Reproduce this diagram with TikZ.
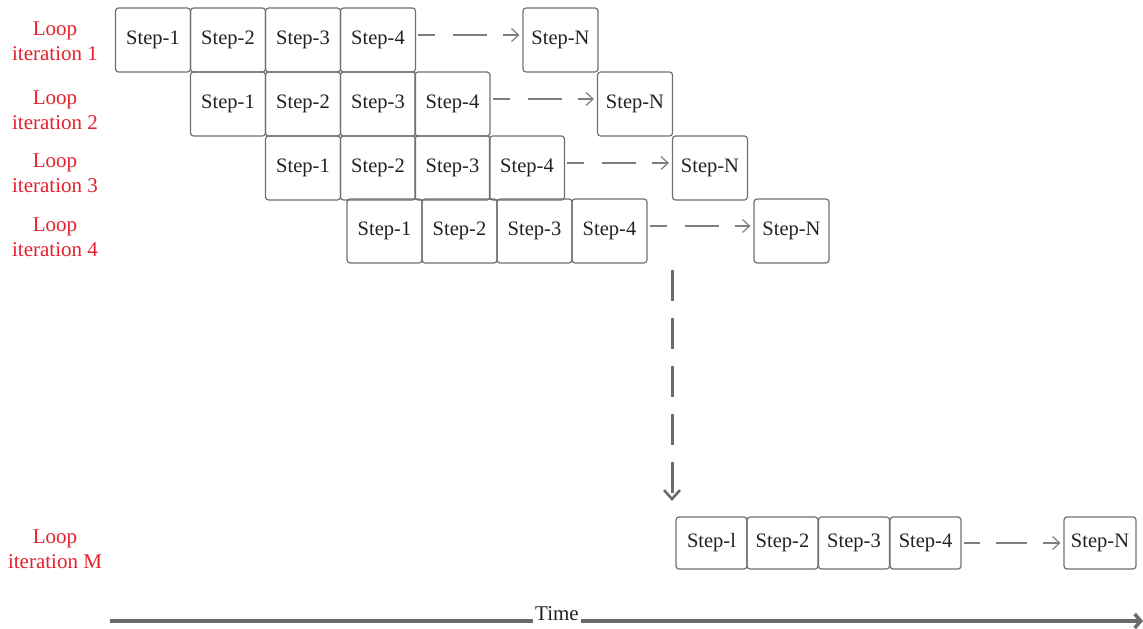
\documentclass[tikz,border=0pt]{standalone}
\usepackage{fontspec}
\setmainfont{Liberation Serif}
\usetikzlibrary{arrows.meta,calc}
\definecolor{loopred}{HTML}{E3202B}
\definecolor{boxgray}{HTML}{707070}
\definecolor{arrgray}{HTML}{6B6B6B}
\definecolor{txt}{HTML}{222222}
\tikzset{
  stepbox/.style={draw=boxgray, line width=1.2pt, rounded corners=3pt,
    minimum width=75pt, minimum height=64pt, inner sep=0pt,
    text=txt, font=\fontsize{20.5}{23}\selectfont},
  smallbox/.style={stepbox, minimum width=71pt, minimum height=52pt},
  looplabel/.style={text=loopred, align=center, inner sep=0pt,
    font=\fontsize{21}{25}\selectfont},
  skip/.style={draw=boxgray!90, line width=1.2pt,
    dash pattern=on 17pt off 18pt on 34pt off 16pt,
    shorten <=2pt, shorten >=3pt,
    -{Straight Barb[length=7pt,width=13pt,line width=1.2pt]}},
  jump/.style={draw=arrgray, line width=3pt,
    dash pattern=on 31pt off 17pt,
    -{Straight Barb[length=9pt,width=16pt,line width=2.6pt]}},
  timeline/.style={draw=arrgray, line width=4pt}
}
\begin{document}
\begin{tikzpicture}[x=1pt,y=-1pt]
\useasboundingbox (0,0) rectangle (1143,629);

% iteration 1
\node[looplabel] (l1) at (55,41) {Loop\\iteration 1};
\node[stepbox] (a1) at (153,40) {Step-1};
\node[stepbox] (a2) at (228,40) {Step-2};
\node[stepbox] (a3) at (303,40) {Step-3};
\node[stepbox] (a4) at (378,40) {Step-4};
\node[stepbox] (aN) at (560.5,40) {Step-N};
\draw[skip] ([yshift=5pt]a4.east) -- ([yshift=5pt]aN.west);

% iteration 2
\node[looplabel] (l2) at (55,110) {Loop\\iteration 2};
\node[stepbox] (b1) at (228,104) {Step-1};
\node[stepbox] (b2) at (303,104) {Step-2};
\node[stepbox] (b3) at (378,104) {Step-3};
\node[stepbox] (b4) at (452.5,104) {Step-4};
\node[stepbox] (bN) at (635,104) {Step-N};
\draw[skip] ([yshift=5pt]b4.east) -- ([yshift=5pt]bN.west);

% iteration 3
\node[looplabel] (l3) at (55,173.5) {Loop\\iteration 3};
\node[stepbox] (c1) at (303,168) {Step-1};
\node[stepbox] (c2) at (378,168) {Step-2};
\node[stepbox] (c3) at (452.5,168) {Step-3};
\node[stepbox] (c4) at (527,168) {Step-4};
\node[stepbox] (cN) at (710,168) {Step-N};
\draw[skip] ([yshift=5pt]c4.east) -- ([yshift=5pt]cN.west);

% iteration 4
\node[looplabel] (l4) at (55,237.5) {Loop\\iteration 4};
\node[stepbox] (d1) at (384.5,231) {Step-1};
\node[stepbox] (d2) at (459.5,231) {Step-2};
\node[stepbox] (d3) at (534.5,231) {Step-3};
\node[stepbox] (d4) at (609.5,231) {Step-4};
\node[stepbox] (dN) at (791.5,231) {Step-N};
\draw[skip] ([yshift=5pt]d4.east) -- ([yshift=5pt]dN.west);

% jump to the last iteration
\coordinate (jtop) at (672,270);
\coordinate (jbot) at (672,501);
\draw[jump] (jtop) -- (jbot);

% iteration M
\node[looplabel] (lM) at (55,549.5) {Loop\\iteration M};
\node[smallbox] (m1) at (711.5,543) {Step-l};
\node[smallbox] (m2) at (782.5,543) {Step-2};
\node[smallbox] (m3) at (854,543) {Step-3};
\node[smallbox] (m4) at (925.5,543) {Step-4};
\node[smallbox, minimum width=72pt] (mN) at (1100,543) {Step-N};
\draw[skip, dash pattern=on 16pt off 16pt on 31pt off 16pt] (m4.east) -- (mN.west);

% time axis
\coordinate (ts) at (110,621);
\coordinate (te) at (1143,621);
\node[text=txt, font=\fontsize{21}{25}\selectfont, inner sep=2pt] (time) at (557,614) {Time};
\draw[timeline] (ts) -- (ts -| time.west);
\draw[timeline, -{Straight Barb[length=6pt,width=14pt,line width=3.5pt]}] (time.east |- ts) -- (te);
\end{tikzpicture}
\end{document}
